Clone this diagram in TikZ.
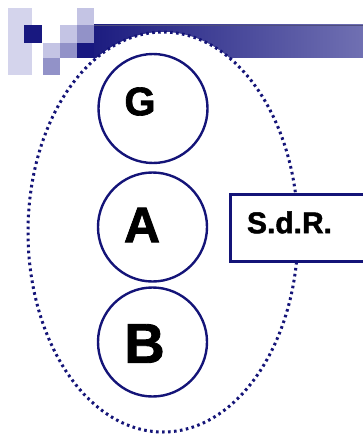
\documentclass[tikz,border=0pt]{standalone}
\usepackage{fontspec}
\setmainfont{Liberation Sans}
\newfontfamily\heavy[FakeBold=1.6]{Liberation Sans Bold}
\definecolor{navy}{RGB}{20,20,120}
\definecolor{tileA}{RGB}{212,212,236}
\definecolor{tileB}{RGB}{196,196,228}
\definecolor{tileC}{RGB}{146,146,200}
\definecolor{tileD}{RGB}{24,24,128}
\definecolor{bandL}{RGB}{28,28,128}
\definecolor{bandR}{RGB}{112,112,178}
\tikzset{
  ring/.style={circle, draw=navy, line width=2.4pt, minimum size=109pt, inner sep=0pt},
  letter/.style={inner sep=0pt},
  dotline/.style={draw=navy, line width=3pt, dash pattern=on 2.6pt off 3.4pt, fill=white},
  labelbox/.style={draw=navy, line width=3pt, fill=white}
}
\begin{document}
\begin{tikzpicture}[x=1pt, y=-1pt]
\useasboundingbox[fill=white] (0,0) rectangle (363,436);

% corner mosaic
\fill[tileA] (8,8) rectangle (32,75);
\fill[tileD] (24,25) rectangle (42,43);
\fill[tileB] (77,8) rectangle (94,25);
\fill[tileB] (60,25) rectangle (77,43);
\fill[tileC] (77,25) rectangle (94,43);
\fill[tileB] (43,43) rectangle (60,58);
\fill[tileC] (60,43) rectangle (77,58);
\fill[tileD] (77,43) rectangle (94,58);
\fill[tileC] (43,58) rectangle (60,75);

% title band
\shade[left color=bandL, right color=bandR] (94,25) rectangle (363,58);
\draw[bandR!70!black, line width=0.6pt] (94,25.3) -- (363,25.3);

% dotted enclosure
\draw[dotline] (163,232) ellipse [x radius=135, y radius=200];

% stacked circles
\node[ring] (g) at (153,108.5) {};
\node[ring] (a) at (152.5,227) {};
\node[ring] (b) at (152.5,342) {};

\node[letter, font=\heavy\fontsize{40}{40}\selectfont] (gl) at (140,101.5) {G};
\node[letter, font=\heavy\fontsize{50}{50}\selectfont] (al) at (142,225) {A};
\node[letter, font=\heavy\fontsize{56}{56}\selectfont] (bl) at (144.5,343.5) {B};

% reference frame box
\draw[labelbox] (230,194.5) rectangle (372,261.5);
\node[letter, font=\heavy\fontsize{30}{30}\selectfont] (sdr) at (289.5,222.5) {S.d.R.};
\end{tikzpicture}
\end{document}
